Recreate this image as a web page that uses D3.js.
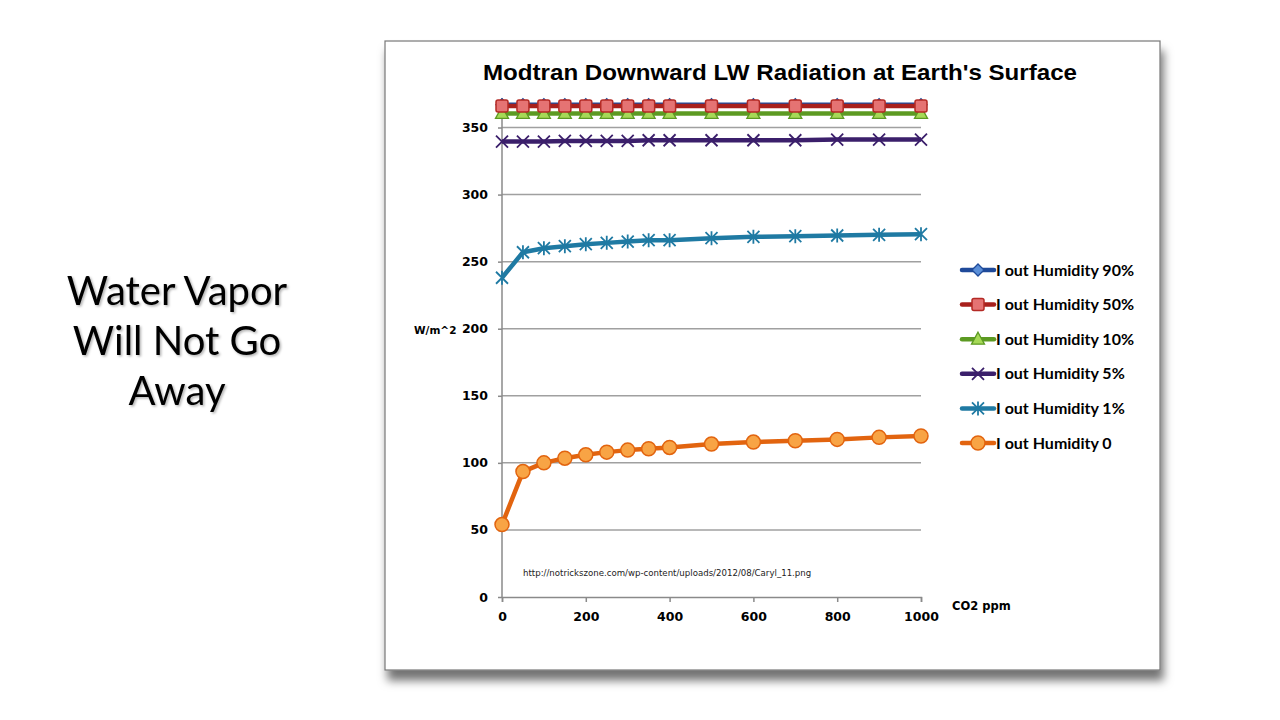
<!DOCTYPE html>
<html><head><meta charset="utf-8">
<script src="https://cdn.jsdelivr.net/npm/d3@7/dist/d3.min.js"></script>
<style>html,body{margin:0;padding:0;background:#fff;}svg{display:block;}</style>
</head><body>
<svg id="c" width="1280" height="720"></svg>
<script>
const co2 = [0,50,100,150,200,250,300,350,400,500,600,700,800,900,1000];
const hum90 = [367,367,367,367,367,367,367,367,367,367,367,367,367,367,367];
const hum50 = [366,366,366,366,366,366,366,366,366,366,366,366,366,366,366];
const hum10 = [360.5,360.5,360.5,360.5,360.5,360.5,360.5,360.5,360.5,360.5,360.5,360.5,360.5,360.5,360.5];
const hum5  = [339.5,339.5,339.5,340,340,340,340,340.5,340.5,340.5,340.5,340.5,341,341,341];
const hum1  = [238,257,260,261.5,263,264,265,266,266,267.5,268.5,269,269.5,270,270.5];
const hum0  = [54,93.5,100,103.5,106,108,109.5,110.5,111.5,114,115.5,116.5,117.5,119,120];
const seriesNames = ["I out Humidity 90%","I out Humidity 50%","I out Humidity 10%","I out Humidity 5%","I out Humidity 1%","I out Humidity 0"];
const yTicks = [0,50,100,150,200,250,300,350];
const xTicks = [0,200,400,600,800,1000];
const titleText = "Modtran Downward LW Radiation at Earth's Surface";
const sourceText = "http://notrickszone.com/wp-content/uploads/2012/08/Caryl_11.png";
const slideLines = ["Water Vapor","Will Not Go","Away"];

const series = [
  {name:seriesNames[0], values:hum90, line:"#1f4a9a", fill:"#5b8fd8", stroke:"#1f4a9a", shape:"diamond"},
  {name:seriesNames[1], values:hum50, line:"#a8201c", fill:"#e57373", stroke:"#b42a25", shape:"square"},
  {name:seriesNames[2], values:hum10, line:"#5c9a22", fill:"#a6d957", stroke:"#5c9a22", shape:"triangle"},
  {name:seriesNames[3], values:hum5,  line:"#3b1f6b", fill:"none", stroke:"#3b1f6b", shape:"x"},
  {name:seriesNames[4], values:hum1,  line:"#1f7aa3", fill:"none", stroke:"#1f7aa3", shape:"star"},
  {name:seriesNames[5], values:hum0,  line:"#e2640f", fill:"#f8a445", stroke:"#e2640f", shape:"circle"}
];

const svg = d3.select("#c");
const defs = svg.append("defs");
const f = defs.append("filter").attr("id","sh").attr("x","-5%").attr("y","-5%").attr("width","115%").attr("height","120%");
f.append("feDropShadow").attr("dx",3).attr("dy",10).attr("stdDeviation",5).attr("flood-color","#000").attr("flood-opacity",0.55);
const tf = defs.append("filter").attr("id","tsh");
tf.append("feDropShadow").attr("dx",1.5).attr("dy",1.5).attr("stdDeviation",1).attr("flood-color","#000").attr("flood-opacity",0.3);

// Slide text
svg.append("g").selectAll("text").data(slideLines).join("text")
  .attr("x",177).attr("y",(d,i)=>305+i*50)
  .attr("text-anchor","middle")
  .attr("font-family","Lato, 'Open Sans', sans-serif")
  .attr("font-size",40).attr("fill","#000").attr("filter","url(#tsh)")
  .text(d=>d);

// chart frame
svg.append("rect").attr("x",385).attr("y",41).attr("width",775).attr("height",629)
  .attr("fill","#fff").attr("stroke","#777").attr("stroke-width",1.2).attr("filter","url(#sh)");

const x = d3.scaleLinear().domain([0,1000]).range([502,921]);
const y = d3.scaleLinear().domain([0,372]).range([597,98]);

// title
svg.append("text").attr("x",780).attr("y",80).attr("text-anchor","middle")
  .attr("font-family","'Liberation Sans', Arial, sans-serif").attr("font-weight","bold")
  .attr("font-size",22).attr("textLength",594).attr("lengthAdjust","spacingAndGlyphs")
  .attr("fill","#000").text(titleText);

// gridlines
svg.append("g").selectAll("line").data(yTicks.filter(d=>d>0)).join("line")
  .attr("x1",x(0)).attr("x2",x(1000)).attr("y1",d=>y(d)).attr("y2",d=>y(d))
  .attr("stroke","#a0a0a0").attr("stroke-width",1.5);

// axes
const yAxis = d3.axisLeft(y).tickValues(yTicks).tickSize(4).tickPadding(10).tickFormat(d3.format("d"));
const gy = svg.append("g").attr("transform",`translate(${x(0)},0)`).call(yAxis);
gy.select(".domain").attr("stroke","#8a8a8a").attr("stroke-width",1.5).attr("d",`M0,${y(372)}V${y(0)}`);
gy.selectAll(".tick line").attr("stroke","#8a8a8a").attr("stroke-width",1.5);
gy.selectAll(".tick text").attr("font-family","'DejaVu Sans', sans-serif").attr("font-weight","bold").attr("font-size",12.5).attr("fill","#000");

const xAxis = d3.axisBottom(x).tickValues(xTicks).tickSize(5).tickPadding(10).tickFormat(d3.format("d"));
const gx = svg.append("g").attr("transform",`translate(0,${y(0)})`).call(xAxis);
gx.select(".domain").attr("stroke","#8a8a8a").attr("stroke-width",1.5);
gx.selectAll(".tick line").attr("stroke","#8a8a8a").attr("stroke-width",1.5);
gx.selectAll(".tick text").attr("font-family","'DejaVu Sans', sans-serif").attr("font-weight","bold").attr("font-size",12.5).attr("fill","#000");

svg.append("text").attr("x",414).attr("y",334).attr("font-family","'DejaVu Sans', sans-serif")
  .attr("font-weight","bold").attr("font-size",10.5).attr("fill","#000").text("W/m^2");
svg.append("text").attr("x",952).attr("y",610).attr("font-family","'DejaVu Sans', sans-serif")
  .attr("font-weight","bold").attr("font-size",11.5).attr("fill","#000").text("CO2 ppm");
svg.append("text").attr("x",523).attr("y",576).attr("font-family","'DejaVu Sans', sans-serif")
  .attr("font-size",8.6).attr("fill","#222").text(sourceText);

// markers
function drawMarker(g, s, cx, cy) {
  if (s.shape==="square") {
    g.append("rect").attr("x",cx-6).attr("y",cy-6).attr("width",12).attr("height",12).attr("rx",2)
      .attr("fill",s.fill).attr("stroke",s.stroke).attr("stroke-width",1.5);
  } else if (s.shape==="triangle") {
    g.append("path").attr("d",`M${cx},${cy-7}L${cx+6.5},${cy+5}L${cx-6.5},${cy+5}Z`)
      .attr("fill",s.fill).attr("stroke",s.stroke).attr("stroke-width",1.3);
  } else if (s.shape==="diamond") {
    g.append("path").attr("d",`M${cx},${cy-6}L${cx+6},${cy}L${cx},${cy+6}L${cx-6},${cy}Z`)
      .attr("fill",s.fill).attr("stroke",s.stroke).attr("stroke-width",1.3);
  } else if (s.shape==="circle") {
    g.append("circle").attr("cx",cx).attr("cy",cy).attr("r",7)
      .attr("fill",s.fill).attr("stroke",s.stroke).attr("stroke-width",1.5);
  } else if (s.shape==="x") {
    g.append("path").attr("d",`M${cx-6},${cy-6}L${cx+6},${cy+6}M${cx-6},${cy+6}L${cx+6},${cy-6}`)
      .attr("stroke",s.stroke).attr("stroke-width",1.8);
  } else if (s.shape==="star") {
    g.append("path").attr("d",`M${cx-6},${cy-6}L${cx+6},${cy+6}M${cx-6},${cy+6}L${cx+6},${cy-6}M${cx},${cy-7}L${cx},${cy+7}`)
      .attr("stroke",s.stroke).attr("stroke-width",1.8);
  }
}

const line = d3.line().x((d,i)=>x(co2[i])).y(d=>y(d));
const order = [0,5,4,3,2,1];
order.forEach(k=>{
  const s = series[k];
  const g = svg.append("g");
  g.append("path").attr("d",line(s.values)).attr("fill","none").attr("stroke",s.line)
    .attr("stroke-width",4.5).attr("stroke-linejoin","round");
  s.values.forEach((v,i)=>drawMarker(g,s,x(co2[i]),y(v)));
});

// legend
const leg = svg.append("g");
series.forEach((s,i)=>{
  const ly = 270 + i*34.6;
  const g = leg.append("g");
  g.append("line").attr("x1",962).attr("x2",994).attr("y1",ly).attr("y2",ly)
    .attr("stroke",s.line).attr("stroke-width",4.5).attr("stroke-linecap","round");
  drawMarker(g,s,978,ly);
  g.append("text").attr("x",996).attr("y",ly+5.5).attr("font-family","Lato, sans-serif")
    .attr("font-weight","bold").attr("font-size",16).attr("fill","#000").text(s.name);
});
</script>
</body></html>
